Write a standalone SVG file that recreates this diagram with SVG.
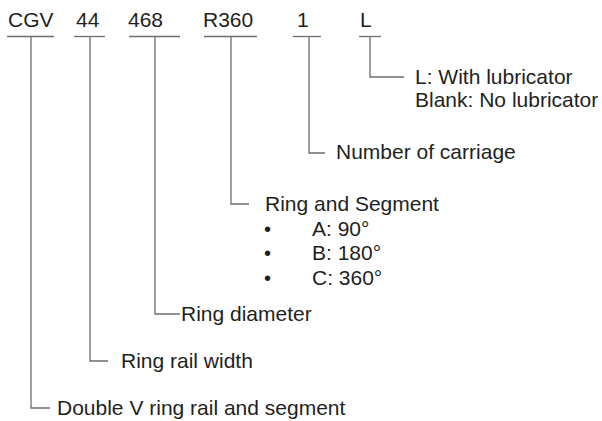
<svg xmlns="http://www.w3.org/2000/svg" width="602" height="421" viewBox="0 0 602 421">
<style>
text{font-family:"Liberation Sans",Arial,sans-serif;font-size:21px;fill:#231f20}
.b{font-size:20px}
.ln{stroke:#6d6e71;stroke-width:1.3;fill:none}
</style>
<rect width="602" height="421" fill="#fff"/>
<g id="code">
<g id="n-cgv"><text x="8" y="27">CGV</text><line class="ln" x1="7" y1="36.5" x2="54" y2="36.5"/></g>
<g id="n-44"><text x="76" y="27">44</text><line class="ln" x1="74" y1="36.5" x2="105" y2="36.5"/></g>
<g id="n-468"><text x="128" y="27">468</text><line class="ln" x1="129" y1="36.5" x2="180" y2="36.5"/></g>
<g id="n-r360"><text x="203" y="27">R360</text><line class="ln" x1="204" y1="36.5" x2="257" y2="36.5"/></g>
<g id="n-1"><text x="297" y="27">1</text><line class="ln" x1="293" y1="36.5" x2="321" y2="36.5"/></g>
<g id="n-l"><text x="360" y="27">L</text><line class="ln" x1="359" y1="36.5" x2="381" y2="36.5"/></g>
</g>
<g id="connectors">
<polyline class="ln" points="370,36.5 370,77 404,77"/>
<polyline class="ln" points="309,36.5 309,153 325,153"/>
<polyline class="ln" points="231,36.5 231,204 249,204"/>
<polyline class="ln" points="155,36.5 155,314 180,314"/>
<polyline class="ln" points="90,36.5 90,361 108,361"/>
<polyline class="ln" points="31,36.5 31,408 50,408"/>
</g>
<g id="d-lub"><text x="415" y="84">L: With lubricator</text><text x="415" y="107">Blank: No lubricator</text></g>
<g id="d-carriage"><text x="336" y="159">Number of carriage</text></g>
<g id="d-ring">
<text x="265" y="211">Ring and Segment</text>
<text class="b" x="264" y="236">•</text><text x="312" y="236">A: 90°</text>
<text class="b" x="264" y="260">•</text><text x="312" y="260">B: 180°</text>
<text class="b" x="264" y="285">•</text><text x="312" y="285">C: 360°</text>
</g>
<g id="d-diam"><text x="181" y="321">Ring diameter</text></g>
<g id="d-width"><text x="121" y="368">Ring rail width</text></g>
<g id="d-double"><text x="57" y="415">Double V ring rail and segment</text></g>
</svg>
